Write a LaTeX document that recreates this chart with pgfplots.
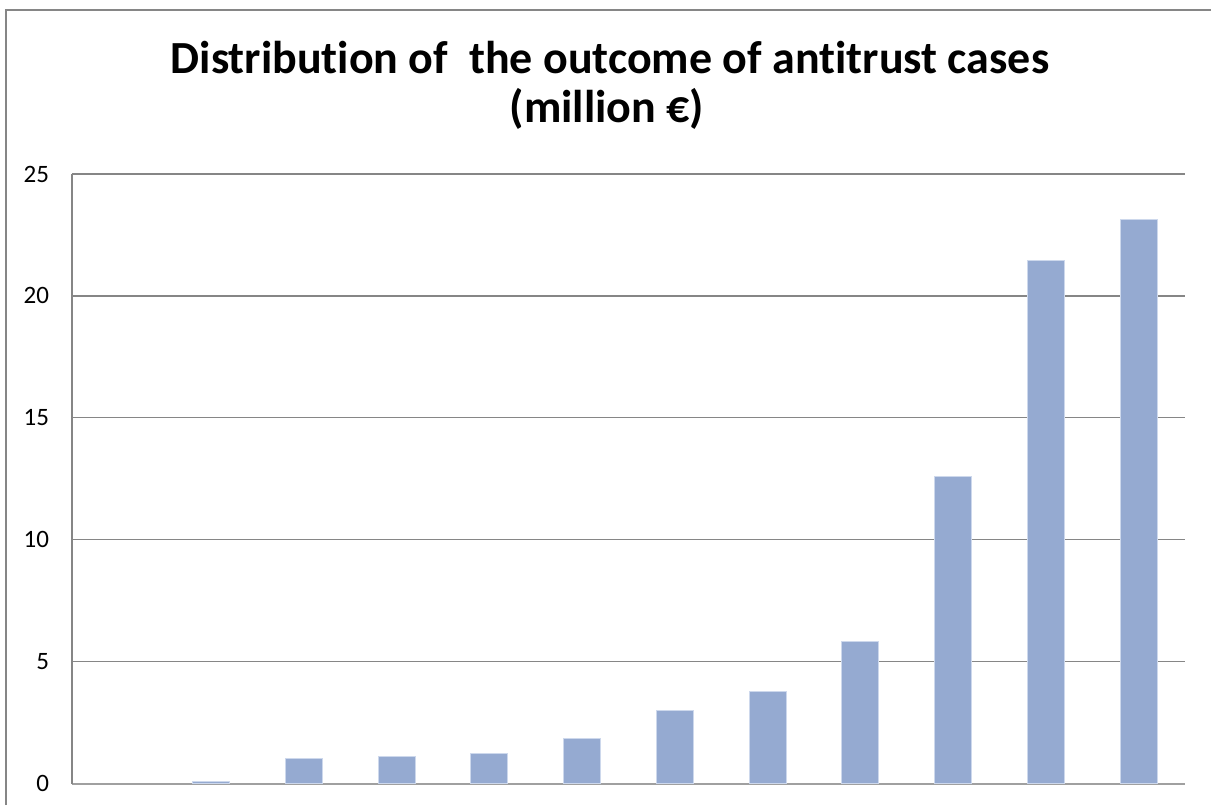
\documentclass[border=0pt]{standalone}
\usepackage{fontspec}
\setmainfont{Carlito}[Ligatures=NoCommon]
\usepackage{pgfplots}
\pgfplotsset{compat=1.18}
\definecolor{barfill}{RGB}{149,170,209}
\definecolor{baredge}{RGB}{205,216,236}
\definecolor{gridc}{RGB}{134,134,134}
\definecolor{framec}{RGB}{134,134,134}
\definecolor{axisc}{RGB}{160,160,160}
\begin{document}
\begin{tikzpicture}
\useasboundingbox (0pt,0pt) rectangle (605.5pt,402.5pt);
\fill[white] (0pt,0pt) rectangle (605.5pt,402.5pt);
\draw[framec, line width=1.1pt] (3pt,0pt) -- (3pt,397.5pt);
\draw[framec, line width=1.1pt] (2.45pt,397.5pt) -- (605.5pt,397.5pt);
\node[font=\bfseries\fontsize{23}{26}\selectfont, anchor=base, inner sep=0pt] at (305pt,365.5pt) {Distribution of\ \ the outcome of antitrust cases};
\node[font=\bfseries\fontsize{23}{26}\selectfont, anchor=base, inner sep=0pt] at (303.5pt,341pt) {(million €)};
\begin{axis}[
  at={(36pt,10.75pt)}, anchor=south west,
  scale only axis,
  width=556.5pt, height=304.75pt,
  xmin=-0.5, xmax=11.5,
  ymin=0, ymax=25,
  xtick=\empty,
  ytick={0,5,10,15,20,25},
  major tick length=0pt,
  axis x line*=bottom,
  axis y line*=left,
  x axis line style={-, axisc, line width=1pt},
  y axis line style={-, gridc, line width=0.6pt},
  ymajorgrids,
  major grid style={gridc, line width=0.6pt},
  /pgf/number format/assume math mode=true,
  yticklabel style={font=\fontsize{12.5}{14}\selectfont, xshift=-8pt, text=black},
  clip=false,
]
\addplot[ybar, bar width=18.5pt, fill=barfill, draw=baredge, line width=0.5pt] coordinates {
  (1,0.07) (2,1.03) (3,1.09) (4,1.22) (5,1.83) (6,3.0) (7,3.79) (8,5.82) (9,12.58) (10,21.47) (11,23.14)
};
\end{axis}
\end{tikzpicture}
\end{document}
